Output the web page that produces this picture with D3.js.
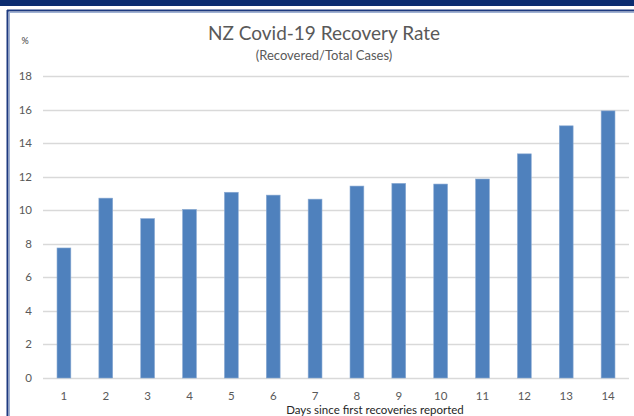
<!DOCTYPE html>
<html>
<head>
<meta charset="utf-8">
<script src="https://cdn.jsdelivr.net/npm/d3@7"></script>
<style>
  body { margin: 0; background: #fff; }
  text { font-family: Lato, "Open Sans", sans-serif; }
</style>
</head>
<body>
<script>
// days since first recoveries, and recovered/total cases (%)
var days = ["1", "2", "3", "4", "5", "6", "7", "8", "9", "10", "11", "12", "13", "14"];
var rates = [7.75, 10.72, 9.5, 10.05, 11.07, 10.9, 10.66, 11.44, 11.6, 11.56, 11.86, 13.36, 15.03, 15.92];
var yTicks = [0, 2, 4, 6, 8, 10, 12, 14, 16, 18];

var w = 634, h = 416;
var plotLeft = 43, plotRight = 629, plotTop = 76, plotBottom = 378;

var svg = d3.select("body").append("svg")
    .attr("width", w)
    .attr("height", h);

// dark band across the top
svg.append("rect")
    .attr("x", 0).attr("y", 0)
    .attr("width", w).attr("height", 6)
    .attr("fill", "#0b2c70");

// frame lines (top and left)
svg.append("line").attr("x1", 7).attr("x2", w).attr("y1", 10.5).attr("y2", 10.5)
    .attr("stroke", "#1d3a80").attr("stroke-width", 2);
svg.append("line").attr("x1", 9).attr("x2", w).attr("y1", 12.5).attr("y2", 12.5)
    .attr("stroke", "#9fb1d3").attr("stroke-width", 1);
svg.append("line").attr("x1", 7.5).attr("x2", 7.5).attr("y1", 10).attr("y2", h)
    .attr("stroke", "#1d3a80").attr("stroke-width", 2);
svg.append("line").attr("x1", 9.5).attr("x2", 9.5).attr("y1", 12).attr("y2", h)
    .attr("stroke", "#9fb1d3").attr("stroke-width", 1);

var x = d3.scaleBand()
    .domain(days)
    .range([plotLeft, plotRight])
    .paddingInner(0.67)
    .paddingOuter(0.335);

var y = d3.scaleLinear()
    .domain([0, 18])
    .range([plotBottom, plotTop]);

// gridlines
svg.append("g")
    .selectAll("line")
    .data(yTicks)
  .enter().append("line")
    .attr("x1", plotLeft)
    .attr("x2", plotRight)
    .attr("y1", function(d) { return Math.round(y(d)) + 0.5; })
    .attr("y2", function(d) { return Math.round(y(d)) + 0.5; })
    .attr("stroke", "#d9d9d9")
    .attr("stroke-width", 1.3);

// y labels
svg.append("g")
    .selectAll("text")
    .data(yTicks)
  .enter().append("text")
    .attr("x", 32)
    .attr("y", function(d) { return y(d); })
    .attr("dy", "0.35em")
    .attr("text-anchor", "end")
    .attr("font-size", "11.5px")
    .attr("fill", "#595959")
    .text(function(d) { return d; });

// bars
svg.append("g")
    .selectAll("rect")
    .data(rates)
  .enter().append("rect")
    .attr("x", function(d, i) { return x(days[i]); })
    .attr("y", function(d) { return y(d); })
    .attr("width", x.bandwidth())
    .attr("height", function(d) { return y(0) - y(d); })
    .attr("fill", "#4f81bd")
    .attr("stroke", "#8aaad3")
    .attr("stroke-width", 0.6);

// x labels
svg.append("g")
    .selectAll("text")
    .data(days)
  .enter().append("text")
    .attr("x", function(d) { return x(d) + x.bandwidth() / 2; })
    .attr("y", 400)
    .attr("text-anchor", "middle")
    .attr("font-size", "11.5px")
    .attr("fill", "#595959")
    .text(function(d) { return d; });

svg.append("text")
    .attr("x", 375)
    .attr("y", 414)
    .attr("text-anchor", "middle")
    .attr("font-size", "11.5px")
    .attr("fill", "#262626")
    .text("Days since first recoveries reported");

// titles
svg.append("text")
    .attr("x", 324)
    .attr("y", 40)
    .attr("text-anchor", "middle")
    .attr("font-size", "19px")
    .attr("fill", "#595959")
    .text("NZ Covid-19 Recovery Rate");

svg.append("text")
    .attr("x", 324)
    .attr("y", 60)
    .attr("text-anchor", "middle")
    .attr("font-size", "13px")
    .attr("fill", "#595959")
    .text("(Recovered/Total Cases)");

svg.append("text")
    .attr("x", 25)
    .attr("y", 44)
    .attr("text-anchor", "middle")
    .attr("font-size", "9px")
    .attr("fill", "#404040")
    .text("%");
</script>
</body>
</html>
